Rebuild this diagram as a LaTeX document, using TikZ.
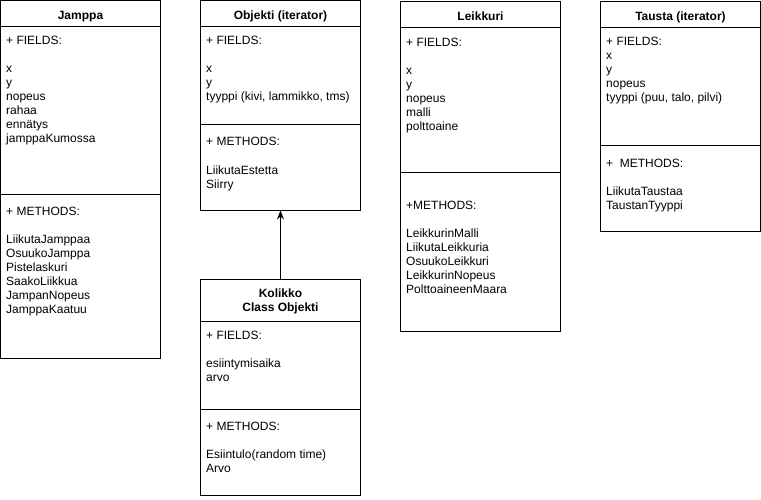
\documentclass[tikz,border=0pt]{standalone}
\usepackage{fontspec}
\setmainfont{Liberation Sans}
\usetikzlibrary{arrows.meta}
\tikzset{
  cls/.style={draw, line width=1pt, inner sep=0pt, outer sep=0pt, anchor=north west, minimum width=160pt},
  sep/.style={line width=1pt},
  txt/.style={anchor=base west, inner sep=0pt, font=\fontsize{12}{14}\selectfont},
  ttl/.style={anchor=base, inner sep=0pt, font=\fontsize{12}{14}\selectfont\bfseries},
  inh/.style={line width=1pt, -{Stealth[length=9pt,width=7pt]}}
}
\newcommand\txtlines[4]{\foreach \t [count=\i from 0] in {#4} {\node[txt,name=#1-\i] at (#2,{#3+14*\i}) {\t};}}
\newcommand\compline[2]{\draw[sep] ([yshift=-#2pt]#1.north west) -- ([yshift=-#2pt]#1.north east);}
\begin{document}
\begin{tikzpicture}[x=1pt,y=-1pt]
\useasboundingbox (0,0) rectangle (761,499);
% boxes
\node[cls, minimum height=357.5pt] (jamppa) at (0.5,0.5) {};
\node[cls, minimum height=210pt] (objekti) at (200.5,0.5) {};
\node[cls, minimum height=330pt] (leikkuri) at (400.5,1) {};
\node[cls, minimum height=230pt] (tausta) at (600.5,1) {};
\node[cls, minimum height=216pt] (kolikko) at (200.5,279) {};
% compartment lines
\compline{jamppa}{26}
\compline{jamppa}{194}
\compline{objekti}{26}
\compline{objekti}{124}
\compline{leikkuri}{26}
\compline{leikkuri}{171}
\compline{tausta}{26}
\compline{tausta}{144}
\compline{kolikko}{42}
\compline{kolikko}{130}
% titles
\node[ttl] (jt) at (80.5,19) {Jamppa};
\node[ttl] (ot) at (280.5,19) {Objekti (iterator)};
\node[ttl] (lt) at (480.5,20) {Leikkuri};
\node[ttl] (tt) at (680.5,20) {Tausta (iterator)};
\node[ttl] (kt1) at (280.5,297) {Kolikko};
\node[ttl] (kt2) at (280.5,311) {Class Objekti};
% Jamppa
\node[txt] (jf) at (6,44) {+ FIELDS:};
\txtlines{jfl}{6}{72}{x,y,nopeus,rahaa,ennätys,jamppaKumossa}
\node[txt] (jm) at (6,215) {+ METHODS:};
\txtlines{jml}{6}{243}{LiikutaJamppaa,OsuukoJamppa,Pistelaskuri,SaakoLiikkua,JampanNopeus,JamppaKaatuu}
% Objekti
\node[txt] (of) at (206,44) {+ FIELDS:};
\txtlines{ofl}{206}{72}{x,y,{tyyppi (kivi, lammikko, tms)}}
\node[txt] (om) at (206,145) {+ METHODS:};
\txtlines{oml}{206}{174}{LiikutaEstetta,Siirry}
% Leikkuri
\node[txt] (lf) at (406,46) {+ FIELDS:};
\txtlines{lfl}{406}{74}{x,y,nopeus,malli,polttoaine}
\node[txt] (lm) at (406,209) {+METHODS:};
\txtlines{lml}{406}{237}{LeikkurinMalli,LiikutaLeikkuria,OsuukoLeikkuri,LeikkurinNopeus,PolttoaineenMaara}
% Tausta
\node[txt] (tf) at (606,45) {+ FIELDS:};
\txtlines{tfl}{606}{59}{x,y,nopeus,{tyyppi (puu, talo, pilvi)}}
\node[txt] (tm) at (606,167) {+\ \ METHODS:};
\txtlines{tml}{606}{195}{LiikutaTaustaa,TaustanTyyppi}
% Kolikko
\node[txt] (kf) at (206,339) {+ FIELDS:};
\txtlines{kfl}{206}{367}{esiintymisaika,arvo}
\node[txt] (km) at (206,430) {+ METHODS:};
\txtlines{kml}{206}{458}{Esiintulo(random time),Arvo}
% inheritance
\draw[inh] (kolikko.north) -- (objekti.south);
\end{tikzpicture}
\end{document}
